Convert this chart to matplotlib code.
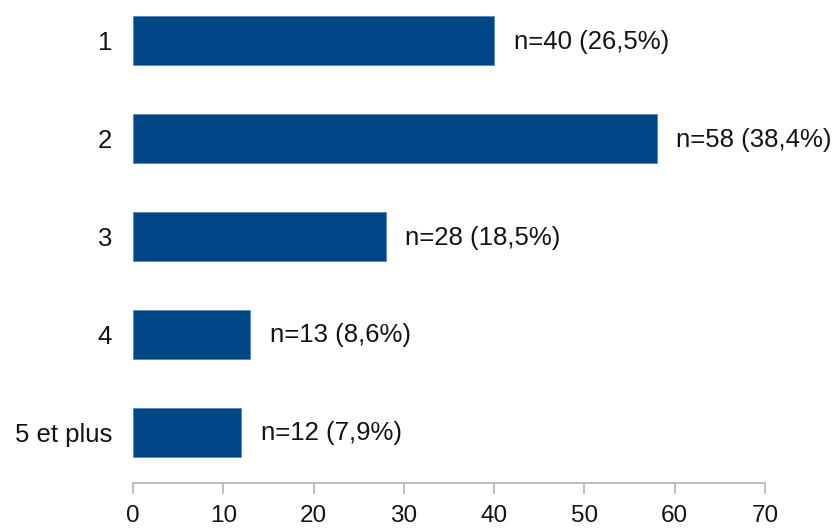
import matplotlib
matplotlib.use("Agg")
import matplotlib.pyplot as plt

categories = ["1", "2", "3", "4", "5 et plus"]
values = [40, 58, 28, 13, 12]
labels = ["n=40 (26,5%)", "n=58 (38,4%)", "n=28 (18,5%)", "n=13 (8,6%)", "n=12 (7,9%)"]
xticks = [0, 10, 20, 30, 40, 50, 60, 70]

plt.rcParams['font.family'] = ['Liberation Sans', 'DejaVu Sans']

fig = plt.figure(figsize=(8.32, 5.28), dpi=100)
ax = fig.add_axes([133/832, 45/528, 632/832, 483/528])

ypos = list(range(len(categories)))
ax.barh(ypos, values, height=0.5, color="#004586", edgecolor="#5a86b5", linewidth=0.6)
for y, v, lab in zip(ypos, values, labels):
    ax.annotate(lab, (v, y), xytext=(14, -1), textcoords="offset points",
                va="center", ha="left", fontsize=18.5, color="#141414")

ax.set_xlim(0, 70)
ax.set_ylim(4.52, -0.41)
ax.set_yticks(ypos)
ax.set_yticklabels(categories, fontsize=18.5, color="#141414")
ax.tick_params(axis="y", length=0, pad=15)
ax.set_xticks(xticks)
ax.set_xticklabels([str(t) for t in xticks], fontsize=17.5, color="#141414")
ax.tick_params(axis="x", length=8, width=1.2, color="#b3b3b3", pad=8)
for s in ["top", "right", "left"]:
    ax.spines[s].set_visible(False)
ax.spines["bottom"].set_color("#b3b3b3")
ax.spines["bottom"].set_linewidth(1.2)

fig.savefig("out.png", dpi=100)
